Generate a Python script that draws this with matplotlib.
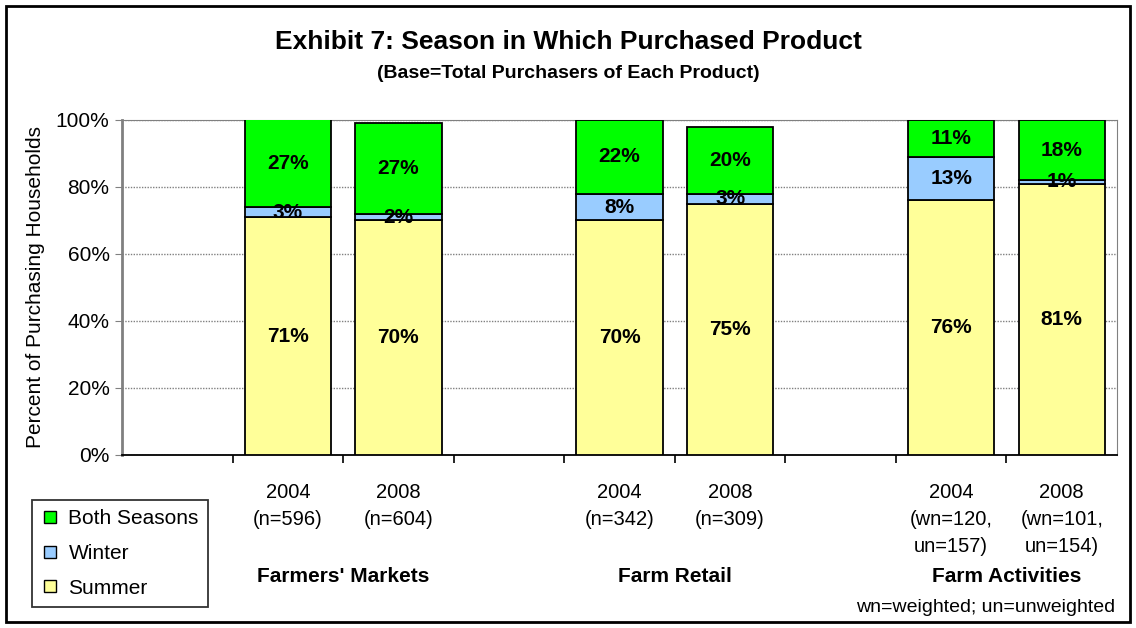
import matplotlib
matplotlib.use("Agg")
import numpy as np
import matplotlib.pyplot as plt
from matplotlib.patches import Rectangle
from matplotlib.lines import Line2D

plt.rcParams['font.family'] = ['Liberation Sans', 'DejaVu Sans']

# data
slots     = ["", "2004\n(n=596)", "2008\n(n=604)", "", "2004\n(n=342)", "2008\n(n=309)",
             "", "2004\n(wn=120,\nun=157)", "2008\n(wn=101,\nun=154)"]
bar_slots = [1, 2, 4, 5, 7, 8]
summer    = [71, 70, 70, 75, 76, 81]
winter    = [3, 2, 8, 3, 13, 1]
both      = [27, 27, 22, 20, 11, 18]
grupos    = ["Farmers' Markets", "Farm Retail", "Farm Activities"]
grupo_pos = [1.5, 4.5, 7.5]

col_summer = "#ffff99"
col_winter = "#99ccff"
col_both   = "#00ff00"

fig = plt.figure(figsize=(11.36, 6.28), dpi=100)
ax = fig.add_axes([0.1074, 0.2755, 0.8759, 0.5335])

x = np.array(bar_slots)
s = np.array(summer)
w = np.array(winter)
b = np.array(both)
ancho = 0.78
kw = dict(width=ancho, edgecolor="black", linewidth=1.3, zorder=3)
ax.bar(x, s, color=col_summer, **kw)
ax.bar(x, w, bottom=s, color=col_winter, **kw)
ax.bar(x, b, bottom=s + w, color=col_both, **kw)

# etiquetas de valor
for xi, si, wi, bi in zip(x, s, w, b):
    ax.text(xi, si / 2, f"{si}%", ha="center", va="center", fontsize=15, fontweight="bold", zorder=4)
    ax.text(xi, si + wi / 2, f"{wi}%", ha="center", va="center", fontsize=15, fontweight="bold", zorder=4)
    top = min(si + wi + bi, 100)
    ax.text(xi, (si + wi + top) / 2, f"{bi}%", ha="center", va="center", fontsize=15, fontweight="bold", zorder=4)

ax.set_xlim(-0.5, len(slots) - 0.5)
ax.set_ylim(0, 100)
ax.set_yticks(np.arange(0, 101, 20))
ax.set_yticklabels([f"{v}%" for v in range(0, 101, 20)], fontsize=15)
ax.yaxis.grid(True, linestyle=(0, (1, 1)), color="#808080", linewidth=1, zorder=0)
ax.tick_params(axis="y", length=5, color="#808080", pad=4)

ax.set_xticks(np.arange(0.5, len(slots) - 1, 1))
ax.set_xticklabels([])
ax.set_xticks(np.arange(len(slots)), minor=True)
ax.set_xticklabels(slots, minor=True, fontsize=14.5, va="top", linespacing=1.55)
ax.tick_params(axis="x", which="major", length=6, width=1.2, direction="out")
ax.tick_params(axis="x", which="minor", length=0, pad=20)

ax.set_ylabel("Percent of Purchasing Households", fontsize=15, labelpad=8)
for lado in ["top", "right", "left"]:
    ax.spines[lado].set_color("#808080")
ax.spines["left"].set_linewidth(2)
ax.spines["bottom"].set_linewidth(1.3)

# nombres de grupo
for g, p in zip(grupos, grupo_pos):
    xf = fig.transFigure.inverted().transform(ax.transData.transform((p, 0)))[0]
    fig.text(xf, 1 - 577 / 628, g, ha="center", va="center", fontsize=15, fontweight="bold")

fig.text(0.5, 1 - 42 / 628, "Exhibit 7: Season in Which Purchased Product",
         ha="center", va="center", fontsize=19, fontweight="bold")
fig.text(0.5, 1 - 73 / 628, "(Base=Total Purchasers of Each Product)",
         ha="center", va="center", fontsize=14, fontweight="bold")
fig.text(1115 / 1136, 1 - 608 / 628, "wn=weighted; un=unweighted",
         ha="right", va="center", fontsize=14)

# leyenda
handles = [Line2D([], [], marker="s", linestyle="none", markersize=8,
                  markerfacecolor=c, markeredgecolor="black", markeredgewidth=1)
           for c in [col_both, col_winter, col_summer]]
leg = fig.legend(handles, ["Both Seasons", "Winter", "Summer"],
                 loc="upper left", bbox_to_anchor=(32 / 1136, 1 - 500 / 628),
                 fontsize=15, frameon=True, fancybox=False, edgecolor="black",
                 handlelength=0.8, handletextpad=0.5, labelspacing=0.75,
                 borderpad=0.45, borderaxespad=0)
leg.get_frame().set_linewidth(1.3)

# marco exterior
fig.patches.append(Rectangle((6 / 1136, 6 / 628), 1124 / 1136, 616 / 628,
                             transform=fig.transFigure, fill=False,
                             edgecolor="black", linewidth=2))

fig.savefig("out.png", dpi=100)
